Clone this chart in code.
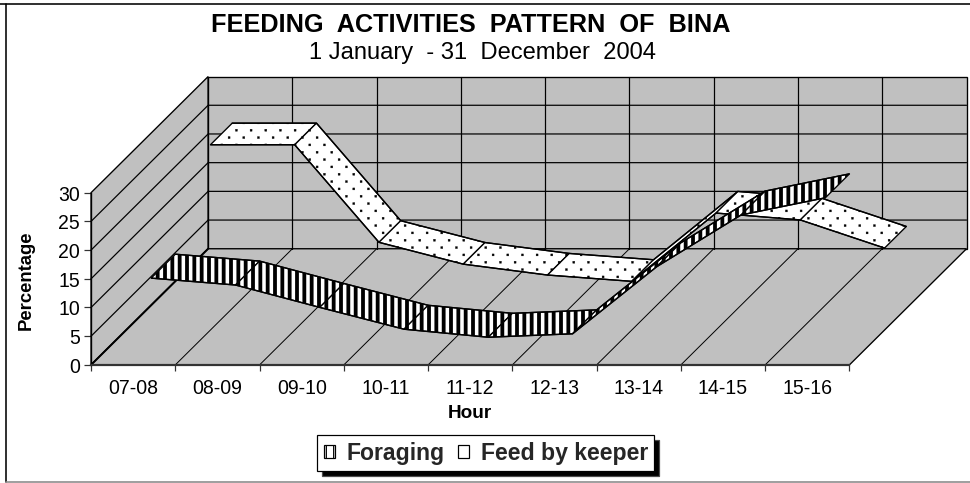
import numpy as np, pandas as pd, matplotlib.pyplot as plt, seaborn as sns
import matplotlib.hatch as mhatch
from matplotlib.path import Path
from matplotlib.patches import Patch
from matplotlib.lines import Line2D

# values
hours=["07-08","08-09","09-10","10-11","11-12","12-13","13-14","14-15","15-16"]
foraging=[12,10.8,6.9,3.1,1.7,2.3,14,23,26]
keeper=[25,25,8,4.2,2.3,1.2,13.1,11.9,7]
y_ticks=[0,5,10,15,20,25,30]

W,H,DPI=970,483,88
GREY="#C0C0C0"
# oblique projection: one unit of depth moves this far in data units
DX,DY=117/84.22,116/5.733
def proj(x,y,d):
    d=np.asarray(d,float)
    return np.asarray(x,float)+d*DX,np.asarray(y,float)+d*DY

# stock "." hatch has rows as far apart as columns, the chart has them half that
class Speckle(mhatch.HatchPatternBase):
    def __init__(self,hatch,density):
        self.on=hatch.count("d")>0
        self.num_vertices=5*72 if self.on else 0
    def set_vertices_and_codes(self,vertices,codes):
        if not self.on: return
        s=.011; k=0
        for r in range(12):
            for c in range(6):
                x=(c+(.5 if r%2 else 0))/6+.02; y=r/12+.02
                vertices[k:k+5]=[[x-s,y-s],[x+s,y-s],[x+s,y+s],[x-s,y+s],[x-s,y-s]]
                codes[k:k+5]=[Path.MOVETO,Path.LINETO,Path.LINETO,Path.LINETO,Path.CLOSEPOLY]
                k+=5
mhatch._hatch_types.append(Speckle)

sns.set_theme(style="white")
plt.rcParams["font.family"]=["Liberation Sans","DejaVu Sans"]
def pt(px): return px*72/DPI

fig=plt.figure(figsize=((W+.5)/DPI,(H+.5)/DPI),dpi=DPI)
ax=fig.add_axes([91/W,1-365/H,758/W,172/H])
ax.set_xlim(-.5,8.5); ax.set_ylim(0,30)
ax.patch.set_visible(False)

# walls and floor
def poly(x,y,d,z=1,**kw):
    px,py=proj(x,y,d)
    return ax.fill(px,py,clip_on=False,zorder=z,**kw)
wall=dict(facecolor=GREY,edgecolor="black",lw=1.1)
poly([-.5,-.5,-.5,-.5],[0,30,30,0],[0,0,1,1],**wall)
poly([-.5,8.5,8.5,-.5],[0,0,30,30],[1,1,1,1],**wall)
poly([-.5,8.5,8.5,-.5],[0,0,0,0],[0,0,1,1],**wall)
for v in y_ticks[1:-1]:
    px,py=proj([-.5,-.5,8.5],[v,v,v],[0,1,1])
    ax.plot(px,py,color="black",lw=1,clip_on=False,zorder=1.5)
for e in np.arange(.5,8,1):
    px,py=proj([e,e],[0,30],[1,1])
    ax.plot(px,py,color="black",lw=1,clip_on=False,zorder=1.5)
for e in np.arange(.5,8.5,1):
    px,py=proj([e,e],[0,0],[0,1])
    ax.plot(px,py,color="black",lw=.8,clip_on=False,zorder=1.5)
px,py=proj([-.5,-.5],[0,0],[0,1])
ax.plot(px,py,color="black",lw=1.6,clip_on=False,zorder=1.6)

# ribbons, far one first
def ribbon(vals,d0,d1,hatch,hlw,z):
    xs=np.arange(len(vals))
    for i in range(len(vals)-1):
        px,py=proj([i,i+1,i+1,i],[vals[i],vals[i+1],vals[i+1],vals[i]],[d0,d0,d1,d1])
        p=ax.fill(px,py,facecolor="white",edgecolor="black",lw=1.1,hatch=hatch,clip_on=False,zorder=z+i*.01)[0]
        p.set_hatch_linewidth(hlw)
    for d in (d0,d1):
        px,py=proj(xs,vals,d)
        sns.lineplot(x=px,y=py,color="black",lw=1.1,estimator=None,sort=False,ax=ax,clip_on=False,zorder=z+.5,legend=False)
ribbon(keeper,.66,.846,"d",.3,3)
ribbon(foraging,.154,.36,"||",3.8*72/DPI,4)

# axes furniture
ax.set_xticks(np.arange(-.5,9,1)); ax.set_xticklabels([])
ax.set_xticks(np.arange(9),labels=hours,minor=True)
ax.set_yticks(y_ticks)
ax.tick_params(axis="x",which="major",bottom=True,length=pt(6),width=1,color="#333333")
ax.tick_params(axis="x",which="minor",bottom=False,labelsize=pt(19.5),pad=pt(9),labelcolor="black")
ax.tick_params(axis="y",left=True,length=pt(7),width=1,labelsize=pt(19.5),pad=pt(4),color="#333333",labelcolor="black")
sns.despine(ax=ax,top=True,right=True)
ax.spines["bottom"].set_linewidth(1.8); ax.spines["bottom"].set_color("#333333"); ax.spines["bottom"].set_zorder(6)
ax.spines["left"].set_linewidth(1.1); ax.spines["left"].set_color("black"); ax.spines["left"].set_zorder(6)
ax.set_xlabel("Hour",fontsize=pt(19),fontweight="bold",color="black",va="center")
ax.xaxis.set_label_coords((470-91)/758,(365-413)/172)
ax.set_ylabel("Percentage",fontsize=pt(18.5),fontweight="bold",color="black",va="center")
ax.yaxis.set_label_coords((26-91)/758,(365-280)/172)

# titles
fig.text(471/W,1-25/H,"FEEDING  ACTIVITIES  PATTERN  OF  BINA",ha="center",va="center",fontsize=pt(25.3),fontweight="bold",color="black")
fig.text(482.5/W,1-53/H,"1 January  - 31  December  2004",ha="center",va="center",fontsize=pt(23.7),color="black")

# legend
handles=[Patch(facecolor="white",edgecolor="black",hatch="||",lw=1,label="Foraging"),
         Patch(facecolor="white",edgecolor="black",lw=1,label="Feed by keeper")]
leg=ax.legend(handles=handles,ncols=2,loc="center",bbox_to_anchor=(485.5/W,1-453/H),bbox_transform=fig.transFigure,
    prop=dict(size=pt(23),weight="bold"),fancybox=False,framealpha=1,edgecolor="black",
    shadow=dict(ox=pt(5),oy=-pt(5),fc="black",alpha=1),handlelength=.48,handleheight=.48,handletextpad=.5,columnspacing=.6,borderpad=.28,borderaxespad=0)
leg.get_frame().set_linewidth(1)
leg.set_zorder(10)

# outer chart border, no line on the right
fig.add_artist(Line2D([0,1],[1-4/H,1-4/H],color="black",lw=1.3))
fig.add_artist(Line2D([6/W,6/W],[1-4/H,1-482/H],color="black",lw=1.3))
fig.add_artist(Line2D([6/W,1],[1-482/H,1-482/H],color="#888888",lw=1.3))

fig.savefig("out.png",dpi=DPI)
